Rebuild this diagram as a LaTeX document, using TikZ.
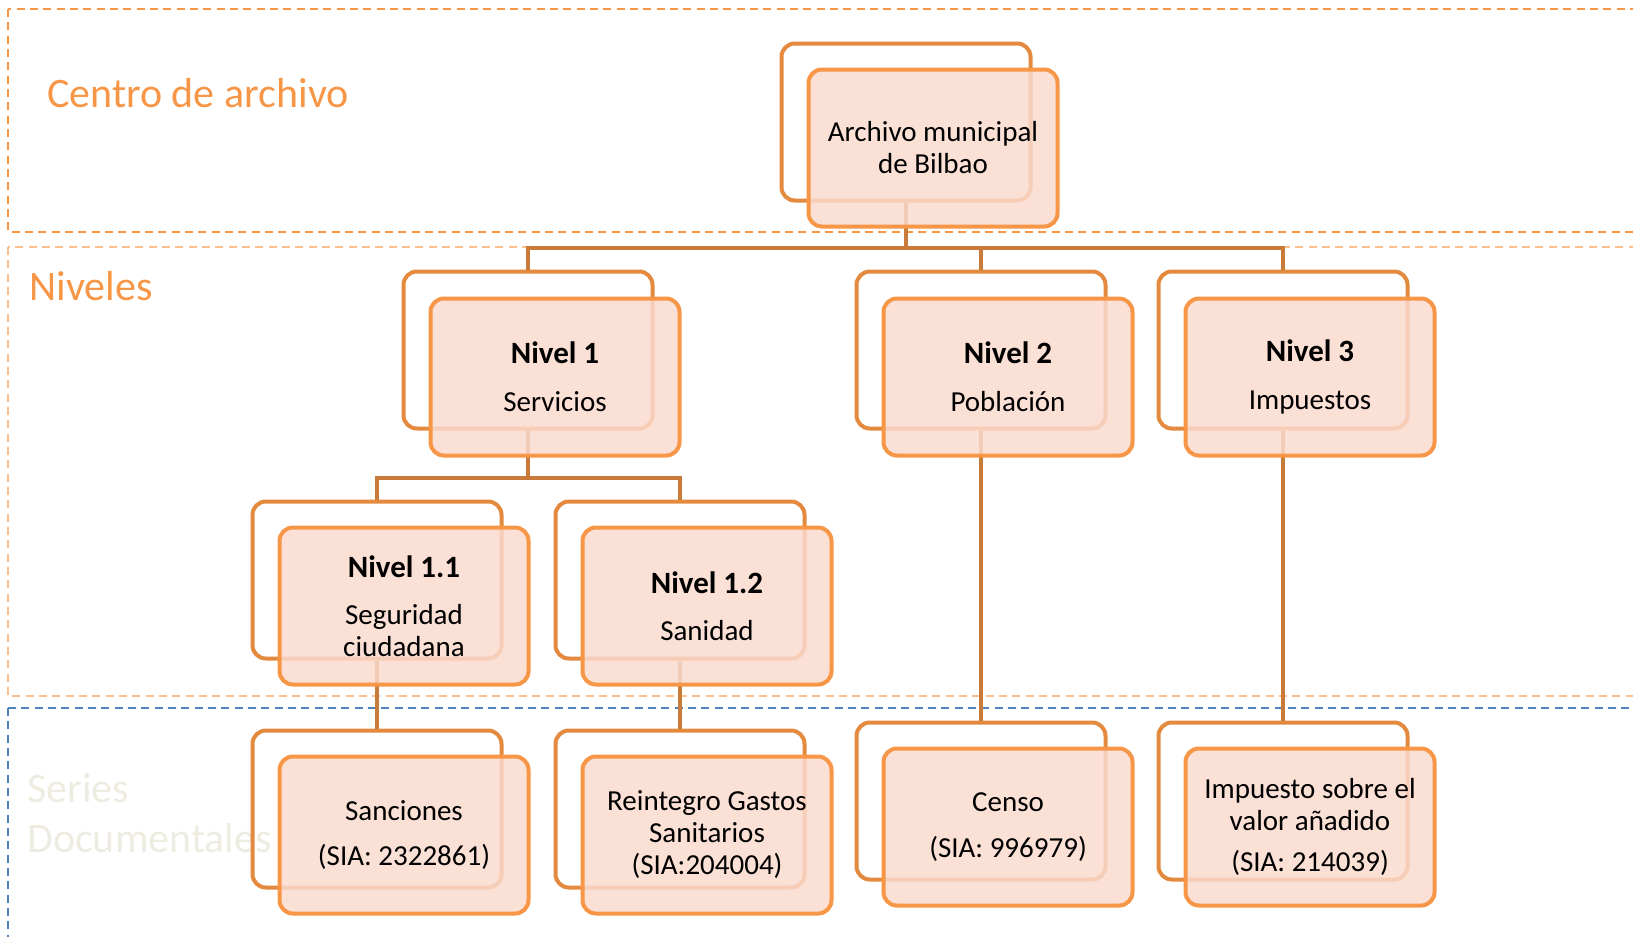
\documentclass[tikz,border=0pt]{standalone}
\usepackage{fontspec}
\setmainfont{Carlito}
\definecolor{frontline}{HTML}{F79646}
\definecolor{frontfill}{HTML}{FADACE}
\definecolor{backline}{HTML}{E38A3E}
\definecolor{linkcol}{HTML}{C97B3A}
\definecolor{lightorange}{HTML}{FAC090}
\definecolor{framblue}{HTML}{4F81BD}
\definecolor{seriesgray}{HTML}{EEECE1}
\tikzset{
  backbox/.style={draw=backline, line width=3pt, rounded corners=10pt,
    minimum width=186.75pt, minimum height=117.75pt, inner sep=0pt},
  frontbox/.style={backbox, draw=frontline, fill=frontfill, fill opacity=0.85,
    text opacity=1, align=center, font=\fontsize{21.75}{24}\selectfont},
  link/.style={draw=linkcol, line width=3pt},
  frame/.style={line width=1.1pt, dash pattern=on 6pt off 4pt},
  title/.style={font=\fontsize{31.5}{37.5}\selectfont, anchor=base west,
    align=left, inner sep=0pt}
}
\newcommand{\lvl}[1]{{\bfseries\fontsize{23.25}{24}\selectfont #1}}
\begin{document}
\begin{tikzpicture}[x=0.75pt,y=-0.75pt]
    \useasboundingbox (0,0) rectangle (1633,936);
    \clip (0,0) rectangle (1633,936);

    % Dashed bands
    \draw[frame, frontline] (8,9) rectangle (1660,232);
    \draw[frame, lightorange] (8,247) rectangle (1660,696);
    \draw[frame, framblue] (8,708) rectangle (1660,980);

    % Band titles
    \node[title, text=frontline] (tcentro) at (47,107) {Centro de archivo};
    \node[title, text=frontline] (tniveles) at (29,300) {Niveles};
    \node[title, text=seriesgray] (tseries) at (27,852) {Series\\Documentales};

    % Back boxes
    \node[backbox] (arch-b) at (906,122) {};
    \node[backbox] (n1-b) at (528,350) {};
    \node[backbox] (n2-b) at (981,350) {};
    \node[backbox] (n3-b) at (1283,350) {};
    \node[backbox] (n11-b) at (377,580) {};
    \node[backbox] (n12-b) at (680,580) {};
    \node[backbox] (s1-b) at (377,809) {};
    \node[backbox] (s2-b) at (680,809) {};
    \node[backbox] (s3-b) at (981,801) {};
    \node[backbox] (s4-b) at (1283,801) {};

    % Connectors
    \coordinate (bus1) at (0,248);
    \coordinate (bus2) at (0,478);
    \draw[link] (arch-b.south) -- (arch-b.south |- bus1);
    \draw[link] (n1-b.north) |- (n3-b.north |- bus1) -- (n3-b.north);
    \draw[link] (n2-b.north) -- (n2-b.north |- bus1);
    \draw[link] (n1-b.south) -- (n1-b.south |- bus2);
    \draw[link] (n11-b.north) |- (n12-b.north |- bus2) -- (n12-b.north);
    \draw[link] (n11-b.south) -- (s1-b.north);
    \draw[link] (n12-b.south) -- (s2-b.north);
    \draw[link] (n2-b.south) -- (s3-b.north);
    \draw[link] (n3-b.south) -- (s4-b.north);

    % Front boxes
    \node[frontbox] (arch) at (933,148) {Archivo municipal\\de Bilbao};
    \node[frontbox] (n1) at (555,377) {\lvl{Nivel 1}\\[12pt]Servicios};
    \node[frontbox] (n2) at (1008,377) {\lvl{Nivel 2}\\[12pt]Población};
    \node[frontbox] (n3) at (1310,377) {\lvl{Nivel 3}\\[12pt]Impuestos};
    \node[frontbox] (n11) at (404,606) {\lvl{Nivel 1.1}\\[11pt]Seguridad\\ciudadana};
    \node[frontbox] (n12) at (707,606) {\lvl{Nivel 1.2}\\[11pt]Sanidad};
    \node[frontbox] (s1) at (404,835) {Sanciones\\[10pt](SIA: 2322861)};
    \node[frontbox] (s2) at (707,835) {Reintegro Gastos\\Sanitarios\\(SIA:204004)};
    \node[frontbox] (s3) at (1008,827) {Censo\\[10pt](SIA: 996979)};
    \node[frontbox] (s4) at (1310,827) {Impuesto sobre el\\valor añadido\\[7pt](SIA: 214039)};

\end{tikzpicture}
\end{document}
